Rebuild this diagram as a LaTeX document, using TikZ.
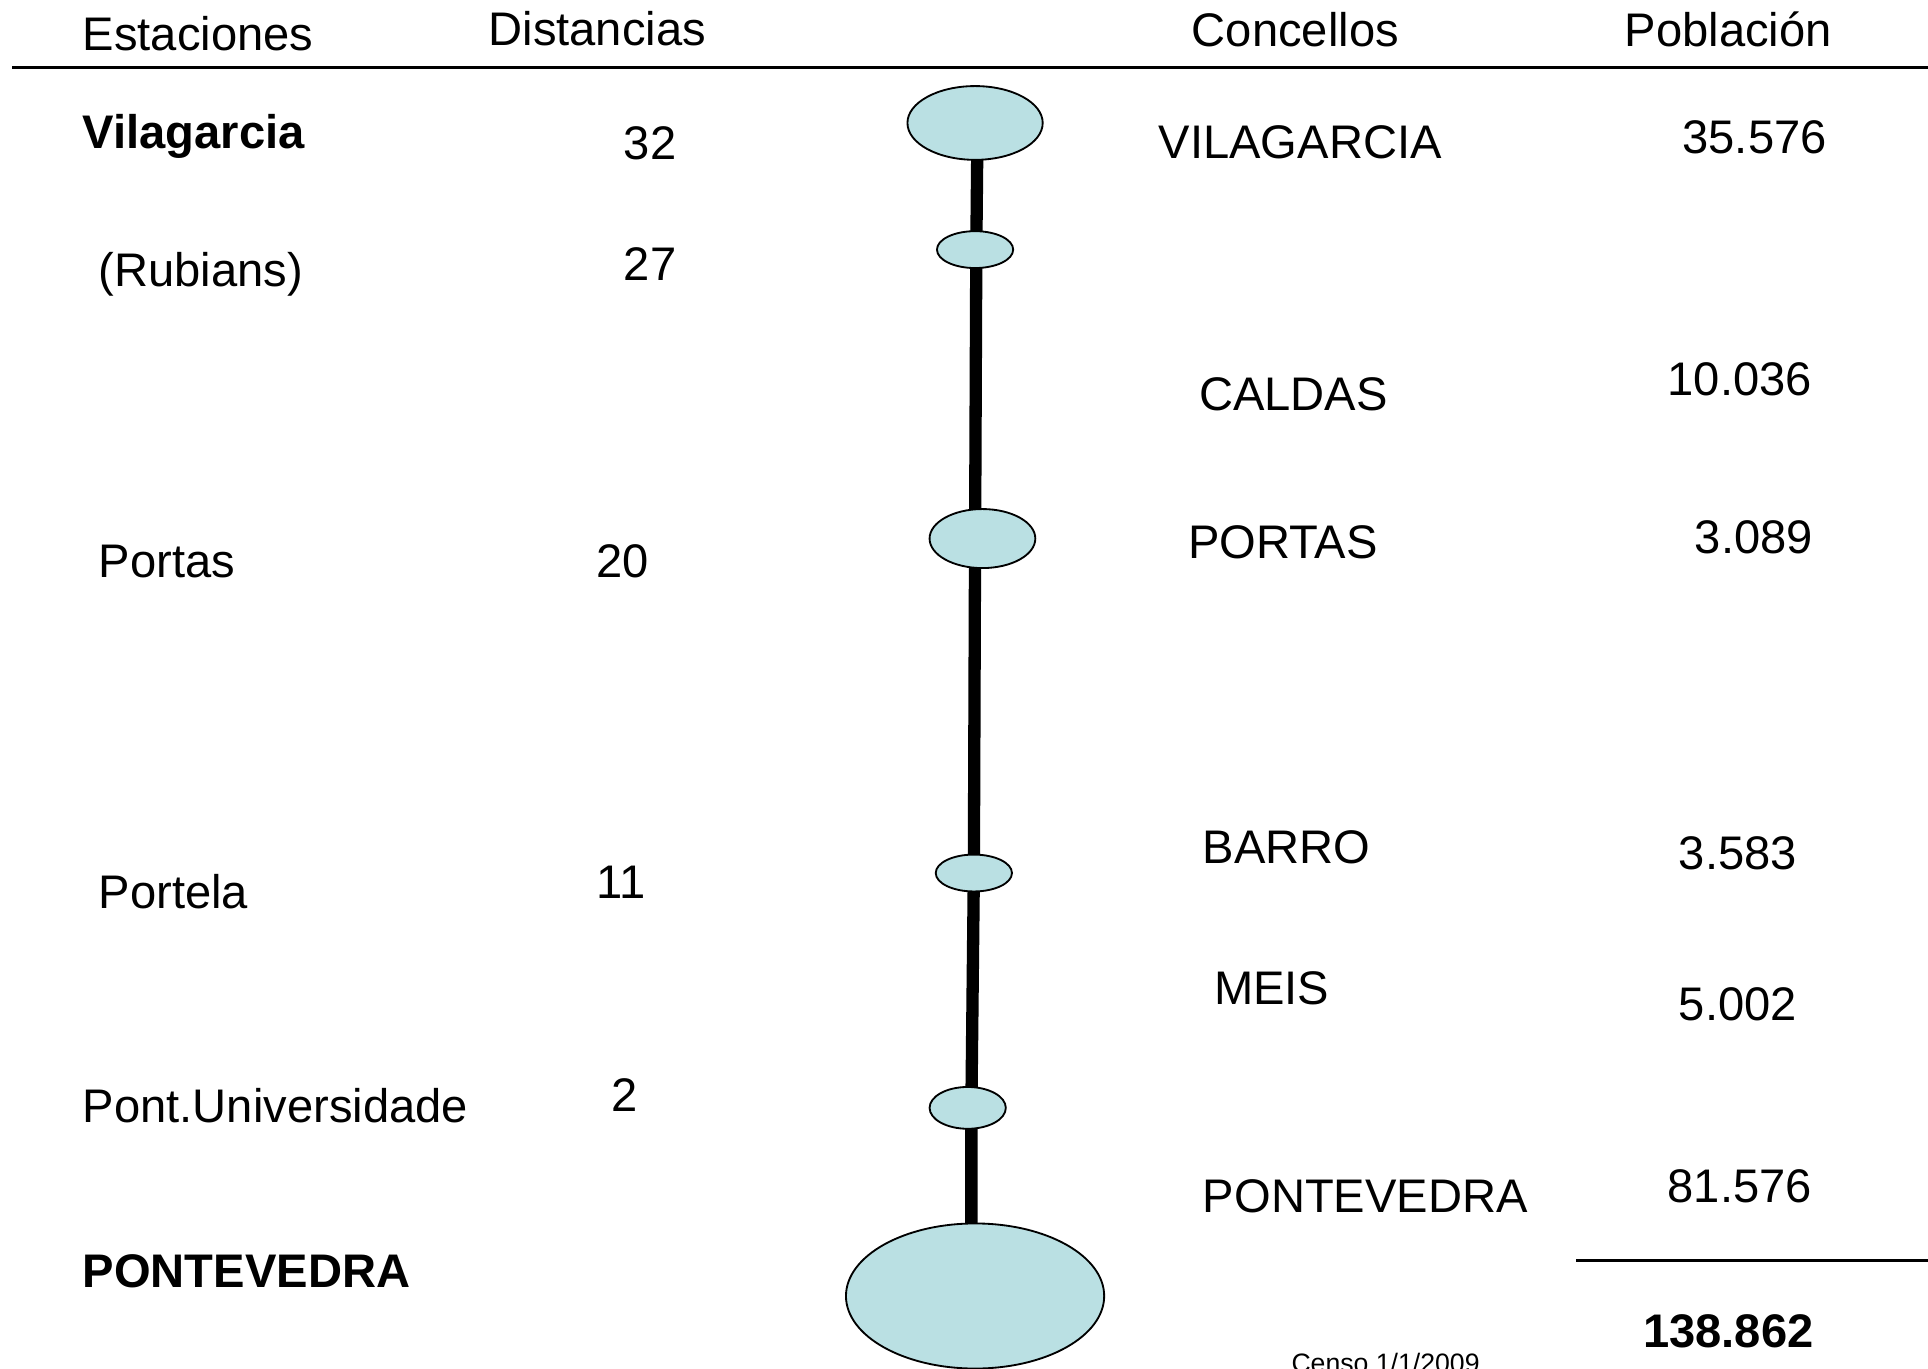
\documentclass[tikz,border=0pt]{standalone}
\usepackage{fontspec}
\setmainfont{Liberation Sans}
\usetikzlibrary{shapes.geometric,backgrounds}
\definecolor{stopblue}{RGB}{186,224,227}

\begin{document}
\begin{tikzpicture}[x=0.6pt,y=-0.6pt,
  txt/.style={inner sep=0pt, anchor=base west, font=\fontsize{23}{27}\selectfont},
  btxt/.style={txt, font=\fontsize{23}{27}\selectfont\bfseries},
  stop/.style={ellipse, draw, line width=0.9pt, fill=stopblue, inner sep=0pt},
  track/.style={line width=6pt}]
\useasboundingbox (0,0) rectangle (1568,1113);

% headers
\path
(67,41)    node[txt] (hEst) {Estaciones}
(397,37)   node[txt] (hDist) {Distancias}
(969,38)   node[txt] (hConc) {Concellos}
(1321,38)  node[txt] (hPob) {Población};
\coordinate (rule1a) at (10,55);
\coordinate (rule1b) at (1568,55);
\draw[line width=1.2pt] (rule1a) -- (rule1b);

% estaciones e distancias
\path
(67,121)   node[btxt] (sVil) {Vilagarcia}
(80,233)   node[txt]  (sRub) {(Rubians)}
(80,470)   node[txt]  (sPor) {Portas}
(80,739)   node[txt]  (sPtl) {Portela}
(67,913)   node[txt]  (sUni) {Pont.Universidade}
(67,1047)  node[btxt] (sPon) {PONTEVEDRA}
(507,130)  node[txt]  (dVil) {32}
(507,228)  node[txt]  (dRub) {27}
(485,470)  node[txt]  (dPor) {20}
(485,731)  node[txt]  (dPtl) {11}
(497,904)  node[txt]  (dUni) {2};

% paradas
\path
(793,100)  node[stop, minimum width=66pt,   minimum height=36pt]   (E1) {}
(793,203)  node[stop, minimum width=37.2pt, minimum height=18pt]   (E2) {}
(799,438)  node[stop, minimum width=51.6pt, minimum height=28.8pt] (E3) {}
(792,710)  node[stop, minimum width=37.2pt, minimum height=18pt]   (E4) {}
(787,901)  node[stop, minimum width=37.2pt, minimum height=20.4pt] (E5) {}
(793,1054) node[stop, minimum width=126pt,  minimum height=70.8pt] (E6) {};

\begin{scope}[on background layer]
\draw[track] ([xshift=1.2pt]E1.center) -- ([xshift=0.6pt]E2.center) -- ([xshift=-3.6pt]E3.center)
  -- (E4.center) -- ([xshift=1.8pt]E5.center) -- ([xshift=-1.8pt]E6.center);
\end{scope}

% concellos e poboacion
\path
(942,129)  node[txt] (cVil) {VILAGARCIA}
(975,334)  node[txt] (cCal) {CALDAS}
(966,454)  node[txt] (cPor) {PORTAS}
(978,702)  node[txt] (cBar) {BARRO}
(987,817)  node[txt] (cMei) {MEIS}
(978,986)  node[txt] (cPon) {PONTEVEDRA}
(1368,125) node[txt] (pVil) {35.576}
(1356,322) node[txt] (pCal) {10.036}
(1378,450) node[txt] (pPor) {3.089}
(1365,707) node[txt] (pBar) {3.583}
(1365,830) node[txt] (pMei) {5.002}
(1356,978) node[txt] (pPon) {81.576}
(1336,1096) node[btxt] (pTot) {138.862}
(1050,1116) node[txt, font=\fontsize{13}{15}\selectfont] (censo) {Censo 1/1/2009};
\coordinate (rule2a) at (1282,1025);
\coordinate (rule2b) at (1568,1025);
\draw[line width=1.2pt] (rule2a) -- (rule2b);
\end{tikzpicture}
\end{document}
